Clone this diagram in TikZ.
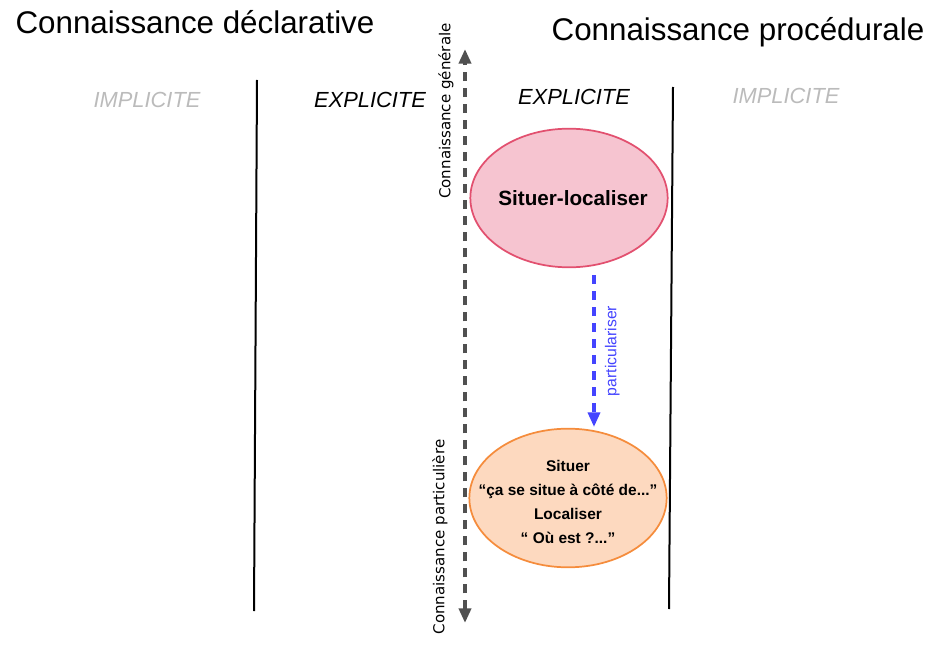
\documentclass[tikz,border=0pt]{standalone}
\usepackage{fontspec}
\setmainfont{Liberation Sans}
\newfontfamily\axisfont{DejaVu Sans}
\usepackage{xcolor}
\usetikzlibrary{shapes.geometric,arrows.meta}

\definecolor{pinkfill}{HTML}{F6C4D0}
\definecolor{pinkdraw}{HTML}{E2506F}
\definecolor{orangefill}{HTML}{FDD9BF}
\definecolor{orangedraw}{HTML}{F58C3C}
\definecolor{axisgray}{HTML}{505050}
\definecolor{lightgray}{HTML}{BBBBBB}
\definecolor{arrowblue}{HTML}{4444FF}

\begin{document}
\begin{tikzpicture}[x=0.75pt, y=-0.75pt,
	title/.style = {font=\fontsize{23.5}{28}\selectfont, inner sep=0},
	implicite/.style = {font=\fontsize{16.4}{20}\selectfont\itshape, text=lightgray, inner sep=0},
	explicite/.style = {font=\fontsize{16.4}{20}\selectfont\itshape, inner sep=0},
	border/.style = {line width=1.5pt},
	axis/.style = {line width=2.8pt, axisgray, dash pattern=on 7pt off 5pt, {Triangle[length=11pt,width=9pt]}-{Triangle[length=11pt,width=9pt]}},
	axislabel/.style = {font=\axisfont\fontsize{11.3}{13}\selectfont, rotate=90, inner sep=0},
	main/.style = {draw, ellipse, line width=1.3pt, minimum width=148pt, minimum height=104pt, inner sep=0},
	inside/.style = {align=center, inner sep=0}]
	\useasboundingbox (0,0) rectangle (950,656);
	\node[title] (decl) at (195,22) {Connaissance déclarative};
	\node[title] (proc) at (738,32) {Connaissance procédurale};
	\node[implicite] (impl1) at (147,100) {IMPLICITE};
	\node[explicite] (expl1) at (370,100) {EXPLICITE};
	\node[explicite] (expl2) at (574,97) {EXPLICITE};
	\node[implicite] (impl2) at (786,96) {IMPLICITE};
	% traits verticaux
	\coordinate (l1) at (257,80);
	\coordinate (l2) at (254,611);
	\coordinate (r1) at (673,87);
	\coordinate (r2) at (669,609);
	\draw[border] (l1) -- (l2);
	\draw[border] (r1) -- (r2);
	% axe general / particulier
	\coordinate (top) at (465,49);
	\coordinate (bot) at (465,623);
	\draw[axis] (bot) -- (top);
	\node[axislabel] (gen) at (446,111) {Connaissance générale};
	\node[axislabel] (part) at (440,537) {Connaissance particulière};
	% ellipses
	\node[main, fill=pinkfill, draw=pinkdraw] (sl) at (569,198) {};
	\node[inside, font=\bfseries\fontsize{15.5}{18}\selectfont] (sltext) at (573,198) {Situer-localiser};
	\node[main, fill=orangefill, draw=orangedraw] (sit) at (568,498) {};
	\node[inside, font=\bfseries\fontsize{11.6}{18}\selectfont] (sittext) at (568,502) {Situer\\“ça se situe à côté de...”\\Localiser\\“ Où est ?...”};
	\coordinate (p1) at (594,275);
	\coordinate (p2) at (594,427);
	\draw[line width=2.6pt, arrowblue, dash pattern=on 7pt off 5pt, -{Triangle[length=11pt,width=9pt]}] (p1) -- node[pos=0.5, right=7pt, rotate=90, anchor=north, font=\fontsize{11.8}{13}\selectfont, text=arrowblue, inner sep=0] (lab) {particulariser} (p2);
\end{tikzpicture}
\end{document}
